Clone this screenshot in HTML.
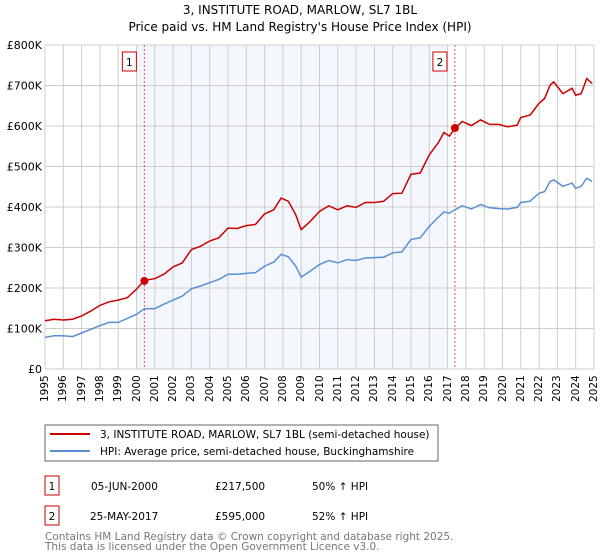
<!DOCTYPE html>
<html><head><meta charset="utf-8"><style>
body{margin:0;background:#fff;font-family:"Liberation Sans","DejaVu Sans",sans-serif;}
svg text{font-family:"DejaVu Sans","Liberation Sans",sans-serif;}
.yl{position:absolute;font-family:"DejaVu Sans","Liberation Sans",sans-serif;font-size:10.5px;line-height:12px;width:30px;height:12px;transform:rotate(-90deg);transform-origin:0 0;white-space:nowrap;}
</style></head><body style="position:relative;width:600px;height:560px;">
<svg id="c" width="600" height="560" style="position:absolute;left:0;top:0" xmlns="http://www.w3.org/2000/svg">
<text x="300" y="14" text-anchor="middle" font-size="12">3, INSTITUTE ROAD, MARLOW, SL7 1BL</text>
<text x="300" y="31" text-anchor="middle" font-size="12">Price paid vs. HM Land Registry's House Price Index (HPI)</text>
<g id="plot"></g>
<rect x="45" y="425" width="393" height="36" fill="#fff" stroke="#666"/>
<line x1="50" y1="434" x2="90" y2="434" stroke="#cc0000" stroke-width="2"/>
<text x="100" y="438" font-size="10.5">3, INSTITUTE ROAD, MARLOW, SL7 1BL (semi-detached house)</text>
<line x1="50" y1="451" x2="90" y2="451" stroke="#5b8fd4" stroke-width="2"/>
<text x="100" y="455" font-size="10.5">HPI: Average price, semi-detached house, Buckinghamshire</text>
<rect x="45" y="476" width="14" height="19" fill="#fff" stroke="#cc0000"/>
<text x="52" y="490" font-size="10.5" text-anchor="middle">1</text>
<text x="91" y="490" font-size="10.5">05-JUN-2000</text>
<text x="215" y="490" font-size="10.5">£217,500</text>
<text x="312" y="490" font-size="10.5">50% ↑ HPI</text>
<rect x="45" y="506" width="14" height="19" fill="#fff" stroke="#cc0000"/>
<text x="52" y="520" font-size="10.5" text-anchor="middle">2</text>
<text x="90" y="520" font-size="10.5">25-MAY-2017</text>
<text x="215" y="520" font-size="10.5">£595,000</text>
<text x="312" y="520" font-size="10.5">52% ↑ HPI</text>
<text x="45" y="540" font-size="10.5" fill="#777">Contains HM Land Registry data © Crown copyright and database right 2025.</text>
<text x="45" y="550" font-size="10.5" fill="#777">This data is licensed under the Open Government Licence v3.0.</text>
</svg>
<div id="xl"></div>
<script>
const yTicks=[0,100,200,300,400,500,600,700,800];
const yTickLabels=["£0","£100K","£200K","£300K","£400K","£500K","£600K","£700K","£800K"];
const years=[1995,1996,1997,1998,1999,2000,2001,2002,2003,2004,2005,2006,2007,2008,2009,2010,2011,2012,2013,2014,2015,2016,2017,2018,2019,2020,2021,2022,2023,2024,2025];
const redT=[1995,1995.5,1996,1996.5,1997,1997.5,1998,1998.5,1999,1999.5,2000,2000.43,2001,2001.5,2002,2002.5,2003,2003.5,2004,2004.5,2005,2005.5,2006,2006.5,2007,2007.5,2007.9,2008.3,2008.7,2009,2009.5,2010,2010.5,2011,2011.5,2012,2012.5,2013,2013.5,2014,2014.5,2015,2015.5,2016,2016.5,2016.8,2017.1,2017.4,2017.8,2018.3,2018.8,2019.3,2019.8,2020.3,2020.8,2021,2021.5,2022,2022.3,2022.6,2022.8,2023.3,2023.8,2024,2024.3,2024.6,2024.9];
const redV=[119,123,121,123,131,143,157,166,170,176,197,219,223,234,252,262,295,303,316,324,348,347,354,357,383,393,422,414,381,344,365,389,403,393,403,399,411,411,414,433,434,481,484,529,559,584,575,594,611,601,615,604,604,598,602,621,627,656,668,701,709,680,693,676,680,717,705];
const hpiV=[78,82,82,80,89,98,107,115,115,125,135,149,149,160,170,180,198,205,213,221,234,234,236,238,254,264,283,277,254,227,242,258,268,262,270,268,274,275,276,287,289,320,324,352,375,388,385,393,403,395,406,398,396,395,399,411,414,434,438,463,467,451,459,446,451,471,463];
const saleT=[2000.43,2017.4];
const saleV=[217.5,595];
const saleLabels=["1","2"];
const X0=45,X1=594,Y0=369,Y1=45;
const x=t=>X0+(t-1995)/30*(X1-X0);
const y=v=>Y0-v/800*(Y0-Y1);
const g=document.getElementById('plot');
const NS='http://www.w3.org/2000/svg';
function mk(tag,attrs,parent){const e=document.createElementNS(NS,tag);for(const k in attrs)e.setAttribute(k,attrs[k]);(parent||g).appendChild(e);return e;}
let sh=mk('rect',{x:x(2000),y:Y1,width:x(2017)-x(2000),height:Y0-Y1,fill:'#eef3fc',opacity:0.7});


const xl=document.getElementById('xl');
years.forEach(yr=>{let l=mk('line',{x1:x(yr),x2:x(yr),y1:Y1,y2:Y0,stroke:'#ccc','stroke-width':1});


let d=document.createElement('div');
d.className='yl';
d.style.left=(x(yr)-6)+'px';
d.style.top=(Y0+33)+'px';
d.textContent=yr;


xl.appendChild(d);});
yTicks.forEach((v,i)=>{let l=mk('line',{x1:X0,x2:X1,y1:y(v),y2:y(v),stroke:'#ccc','stroke-width':1});


let t=mk('text',{x:X0-3,y:y(v)+4,'font-size':11,'text-anchor':'end'});
t.textContent=yTickLabels[i];

});
saleT.forEach((t,i)=>{let l=mk('line',{x1:x(t),x2:x(t),y1:Y1,y2:Y0,stroke:'#e55','stroke-width':1,'stroke-dasharray':'2,2'});


let r=mk('rect',{x:x(t)-22,y:52,width:14,height:19,fill:'#fff',stroke:'#cc0000'});


let tx=mk('text',{x:x(t)-15,y:66,'font-size':10.5,'text-anchor':'middle'});tx.textContent=saleLabels[i];});
function line(vals,col,name){let d=redT.map((t,i)=>(i?'L':'M')+x(t).toFixed(1)+','+y(vals[i]).toFixed(1)).join('');
let p=mk('path',{d:d,fill:'none',stroke:col,'stroke-width':1.5});

}
line(hpiV,'#5b8fd4','hpi-line');
line(redV,'#cc0000','property-price-line');
saleT.forEach((t,i)=>{let c=mk('circle',{cx:x(t),cy:y(saleV[i]),r:4,fill:'#cc0000'});

});
</script>
</body></html>
